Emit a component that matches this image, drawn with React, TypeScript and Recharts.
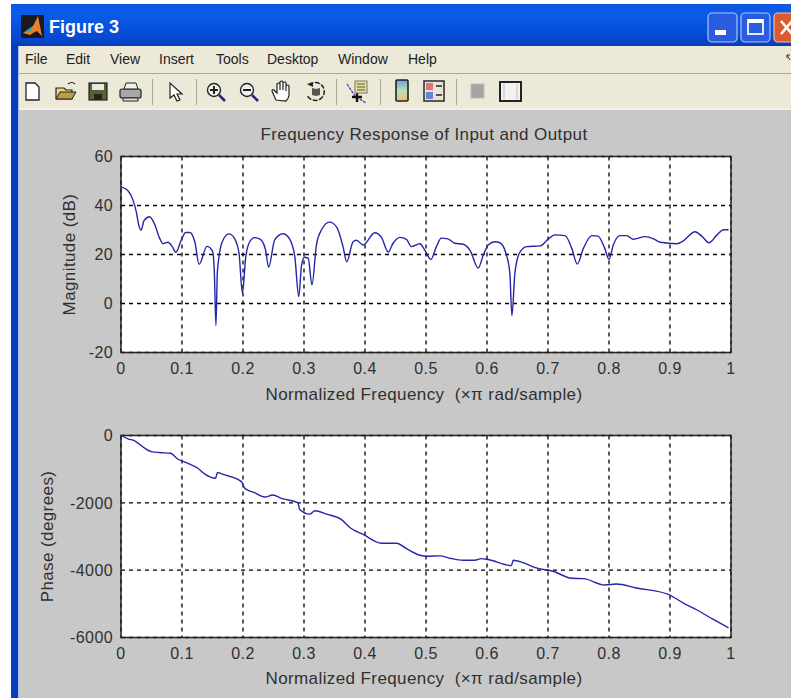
import React from "react";
import { LineChart, Line, XAxis, YAxis, CartesianGrid, ReferenceArea } from "recharts";

const FONT = '"Liberation Sans", Arial, sans-serif';
const GREY = "#c8c8c8";
const BEIGE = "#ece9d8";
const LINE_COLOR = "#2626a8";
const TEXT_COLOR = "#303030";

const freqTicks = [0, 0.1, 0.2, 0.3, 0.4, 0.5, 0.6, 0.7, 0.8, 0.9, 1];
const magTicks = [-20, 0, 20, 40, 60];
const phaseTicks = [-6000, -4000, -2000, 0];
const menuItems: [string, number][] = [
  ["File", 25], ["Edit", 66], ["View", 110], ["Insert", 159],
  ["Tools", 216], ["Desktop", 267], ["Window", 338], ["Help", 408],
];

const magFreq = [
  0, 0.0115, 0.0197, 0.025, 0.0295, 0.033, 0.0377, 0.047, 0.055, 0.0634, 0.069, 0.077, 0.084, 0.09,
  0.099, 0.106, 0.1126, 0.121, 0.128, 0.141, 0.15, 0.153, 0.1556, 0.158, 0.166, 0.177, 0.186, 0.1935,
  0.199, 0.2045, 0.211, 0.219, 0.2285, 0.237, 0.242, 0.252, 0.2657, 0.2767, 0.285, 0.2914, 0.296,
  0.301, 0.307, 0.313, 0.3204, 0.3286, 0.342, 0.354, 0.364, 0.37, 0.3805, 0.386, 0.397, 0.416, 0.427,
  0.438, 0.446, 0.457, 0.468, 0.476, 0.49, 0.498, 0.508, 0.517, 0.525, 0.536, 0.547, 0.561, 0.572,
  0.5856, 0.594, 0.602, 0.613, 0.621, 0.631, 0.6375, 0.6408, 0.6457, 0.653, 0.665, 0.687, 0.7, 0.711,
  0.728, 0.739, 0.748, 0.758, 0.772, 0.782, 0.793, 0.8, 0.807, 0.818, 0.829, 0.84, 0.859, 0.873,
  0.884, 0.911, 0.922, 0.941, 0.952, 0.964, 0.977, 0.988, 0.996,
];
const magValues = [
  47.6, 46, 42.2, 37.5, 31.6, 30, 33.8, 35.4, 32.4, 26.6, 24.4, 25, 23.2, 20.9,
  26, 29, 29, 25.2, 16, 23.3, 21.4, 13, -9, 13, 25.2, 28.4, 26.6, 20.5,
  4.2, 19, 25.2, 26.9, 26.2, 21.8, 14.8, 26, 28.5, 26.2, 19, 2.8, 15.7,
  18.9, 18.4, 7.6, 23.9, 30, 33.2, 31, 23.2, 17, 25.2, 25.8, 23.9, 28.9, 27,
  21, 24.6, 27, 26.2, 23.2, 24.4, 21.8, 18, 23.2, 26.7, 26.4, 24.6, 24.2, 21.8,
  14.5, 19.8, 23.9, 25.2, 24.8, 20.5, 12.3, -5, 12.3, 20.5, 23.2, 23.5, 26.2, 28,
  27.7, 22.5, 16.1, 22.5, 27.7, 27.5, 22.5, 18, 23.9, 27.7, 27.7, 26.2, 27.3, 26.4,
  25, 24.4, 25.6, 29.3, 27.5, 24.8, 28, 30.1, 30.1,
];

const phaseFreq = [
  0, 0.0115, 0.0224, 0.0388, 0.0498, 0.0634, 0.081, 0.0935, 0.107, 0.126, 0.137, 0.155, 0.158, 0.17,
  0.1974, 0.203, 0.219, 0.2356, 0.249, 0.263, 0.29, 0.293, 0.3095, 0.3177, 0.337, 0.361, 0.375, 0.397,
  0.427, 0.4516, 0.468, 0.49, 0.501, 0.5227, 0.539, 0.561, 0.58, 0.591, 0.602, 0.64, 0.643, 0.659,
  0.681, 0.7086, 0.7387, 0.758, 0.793, 0.812, 0.845, 0.897, 0.922, 0.9437, 0.971, 0.996,
];
const phaseValues = [
  0, -99, -159, -377, -477, -507, -527, -705, -805, -974, -1142, -1272, -1103, -1172,
  -1371, -1570, -1699, -1828, -1768, -1868, -1997, -2195, -2334, -2235, -2334, -2493, -2732, -2940,
  -3199, -3199, -3358, -3556, -3586, -3576, -3646, -3705, -3705, -3656, -3685, -3864, -3705, -3775,
  -3934, -4033, -4242, -4252, -4440, -4411, -4530, -4719, -4977, -5176, -5464, -5712,
];

const magData = magFreq.map((f, i) => ({ f, v: magValues[i] }));
const phaseData = phaseFreq.map((f, i) => ({ f, v: phaseValues[i] }));

const tickStyle = { fill: TEXT_COLOR, fontSize: 16, fontFamily: FONT, letterSpacing: 0.4 };
const labelStyle = {
  fill: TEXT_COLOR,
  fontSize: 17,
  fontFamily: FONT,
  letterSpacing: 0.4,
  textAnchor: "middle" as const,
};

interface PanelProps {
  data: { f: number; v: number }[];
  top: number;
  height: number;
  marginTop: number;
  axisHeight: number;
  labelOffset: number;
  yTicks: number[];
  yLabel: string;
  yLabelX: number;
}

function Panel({ data, top, height, marginTop, axisHeight, labelOffset, yTicks, yLabel, yLabelX }: PanelProps) {
  const yMin = yTicks[0];
  const yMax = yTicks[yTicks.length - 1];
  return (
    <div style={{ position: "absolute", left: 0, top }}>
      <LineChart
        width={791}
        height={height}
        data={data}
        margin={{ top: marginTop, right: 60, bottom: 0, left: 41 }}
      >
        <CartesianGrid
          stroke="#000"
          strokeWidth={1.3}
          strokeDasharray="4 4"
          fill="#fff"
          fillOpacity={1}
        />
        <XAxis
          dataKey="f"
          type="number"
          domain={[0, 1]}
          ticks={freqTicks}
          interval={0}
          height={axisHeight}
          axisLine={false}
          tickLine={false}
          tickSize={0}
          tickMargin={10}
          tick={tickStyle}
          label={{
            value: "Normalized Frequency \u00a0(×π rad/sample)",
            position: "insideBottom",
            offset: labelOffset,
            dx: -2,
            style: labelStyle,
          }}
        />
        <YAxis
          type="number"
          domain={[yMin, yMax]}
          ticks={yTicks}
          interval={0}
          width={80}
          axisLine={false}
          tickLine={false}
          tickSize={0}
          tickMargin={8}
          tick={tickStyle}
          label={{
            value: yLabel,
            angle: -90,
            position: "center",
            dx: yLabelX - 81,
            style: labelStyle,
          }}
        />
        <ReferenceArea
          x1={0}
          x2={1}
          y1={yMin}
          y2={yMax}
          fill="none"
          stroke="#222"
          strokeWidth={1.5}
        />
        <Line
          dataKey="v"
          type="monotoneX"
          stroke={LINE_COLOR}
          strokeWidth={1.4}
          dot={false}
          isAnimationActive={false}
        />
      </LineChart>
    </div>
  );
}

function Toolbar() {
  const sep = (x: number) => <rect key={x} x={x} y={79} width={1} height={26} fill="#aca899" />;
  const zoomIcon = (x: number, plus: boolean) => (
    <g fill="none" stroke="#222" strokeWidth={1.4}>
      <circle cx={x + 8} cy={90} r={6.5} fill="#f4f4f4" />
      <path d={`M${x + 4} 90h8`} strokeWidth={2} />
      {plus && <path d={`M${x + 8} 86v8`} strokeWidth={2} />}
      <path d={`M${x + 13} 95l6 6`} stroke="#1c2a80" strokeWidth={2.5} />
    </g>
  );
  return (
    <svg width={791} height={110} style={{ position: "absolute", left: 0, top: 0 }}>
      {/* dock arrow */}
      <path d="M787 55l3 5M787 55h3M787 55v3" stroke="#333" fill="none" />
      {/* document, folder, disk, printer */}
      <path d="M26 83h9l4 4v13H26z" fill="#fff" stroke="#222" strokeWidth={1.3} />
      <path d="M56 99V88h8l2 2h6v9z" fill="#e8d488" stroke="#222" strokeWidth={1.2} />
      <path d="M56 99l4-7h16l-4 7z" fill="#b8a040" stroke="#222" strokeWidth={1} />
      <path d="M68 84q4-3 7 0" fill="none" stroke="#222" strokeWidth={1.2} />
      <rect x={89} y={83} width={18} height={17} fill="#556033" stroke="#222" strokeWidth={1.2} />
      <rect x={92} y={84} width={12} height={6} fill="#e8e8e0" />
      <rect x={94} y={94} width={8} height={6} fill="#222" />
      <rect x={120} y={89} width={21} height={9} rx={2} fill="#a8a8a8" stroke="#222" strokeWidth={1.2} />
      <path d="M124 89l2-6h10l2 6z" fill="#eee" stroke="#222" />
      <path d="M123 98h15v3h-15z" fill="#ddd" stroke="#222" />
      {/* pointer */}
      <path d="M170 83v15l4-3 3 6 3-1-3-6h5z" fill="#fff" stroke="#222" strokeWidth={1.2} />
      {zoomIcon(206, true)}
      {zoomIcon(239, false)}
      {/* hand */}
      <path
        d="M276 100l-4-9q0-2 2-1l3 3v-9q2-2 3 0v6-8q2-2 3 0v8-7q2-2 3 0v8-5q2-2 3 0v9q0 3-3 6z"
        fill="#fff"
        stroke="#222"
        strokeWidth={1.2}
      />
      {/* rotate */}
      <path d="M309 85a9 9 0 1 1-2 10" fill="none" stroke="#222" strokeWidth={1.5} strokeDasharray="5 1.5" />
      <path d="M307 84l6-2v5z" fill="#222" />
      <path d="M312 88l4 1 4-1v7l-4 1-4-1z" fill="#555" />
      {/* data cursor */}
      <path d="M347 84l8 12 11 7" fill="none" stroke="#4040c0" strokeWidth={1.3} strokeDasharray="3 1" />
      <path d="M352 97h10M357 92v10" stroke="#111" strokeWidth={2.4} />
      <rect x={355} y={81} width={12} height={12} fill="#e8e090" stroke="#777" />
      <path d="M357 84h8M357 87h8M357 90h8" stroke="#555" />
      {/* colorbar */}
      <defs>
        <linearGradient id="cbar" x1="0" y1="0" x2="0" y2="1">
          <stop offset="0" stopColor="#6ea0e0" />
          <stop offset="0.5" stopColor="#b8e0b8" />
          <stop offset="1" stopColor="#f0c070" />
        </linearGradient>
      </defs>
      <rect x={396} y={80} width={12} height={21} rx={1} fill="url(#cbar)" stroke="#222" strokeWidth={1.6} />
      {/* legend */}
      <rect x={424} y={81} width={20} height={20} fill="#e8e4d8" stroke="#333" strokeWidth={1.6} />
      <rect x={426} y={83} width={7} height={7} fill="#e07080" />
      <rect x={426} y={92} width={7} height={7} fill="#7080d0" />
      <path d="M436 86h6M436 95h6" stroke="#222" strokeWidth={1.6} />
      {/* hide tools, plot box */}
      <rect x={471} y={84} width={13} height={14} fill="#a4a4a4" stroke="#bbb" />
      <rect x={500} y={82} width={21} height={19} fill="#f2f2f2" stroke="#222" strokeWidth={2} />
      <path d="M504 84v15M517 84v15" stroke="#bbb" />
      {[152, 196, 336, 380, 456].map(sep)}
    </svg>
  );
}

function WindowFrame() {
  return (
    <>
      <svg width={791} height={50} style={{ position: "absolute", left: 0, top: 0 }}>
        <defs>
          <linearGradient id="tb" x1="0" y1="0" x2="0" y2="1">
            <stop offset="0" stopColor="#0a58e0" />
            <stop offset="0.25" stopColor="#0c5ce8" />
            <stop offset="0.85" stopColor="#0448d0" />
            <stop offset="1" stopColor="#0a3cb0" />
          </linearGradient>
        </defs>
        <rect x={11} y={4} width={780} height={42} fill="url(#tb)" />
        <rect x={21} y={15} width={23} height={23} fill="#1a1a20" />
        <path d="M23 33l10-7 5-10 4 20-5-5-4 2-3 2z" fill="#e88030" />
        <path d="M23 33l10-7-2 5-4 1z" fill="#3aa0b0" />
        <rect x={708} y={13} width={29} height={29} rx={4} fill="#2a5ce0" stroke="#a8c4f4" strokeWidth={1.2} />
        <rect x={715} y={30} width={11} height={5} fill="#fff" />
        <rect x={741} y={13} width={29} height={29} rx={4} fill="#2a5ce0" stroke="#a8c4f4" strokeWidth={1.2} />
        <rect x={748} y={20} width={15} height={14} fill="none" stroke="#dfe8ff" strokeWidth={2} />
        <rect x={748} y={19} width={15} height={4} fill="#fff" />
        <rect x={774} y={13} width={24} height={29} rx={4} fill="#dc5a30" stroke="#f0c0a8" strokeWidth={1.2} />
        <path d="M781 21l11 13M792 21l-11 13" stroke="#fff" strokeWidth={2.6} />
      </svg>
      <div
        style={{
          position: "absolute",
          left: 49,
          top: 17,
          color: "#fff",
          fontFamily: FONT,
          fontWeight: 700,
          fontSize: 18,
        }}
      >
        Figure 3
      </div>
      <div style={{ position: "absolute", left: 11, top: 46, width: 780, height: 64, background: BEIGE }} />
      <div style={{ position: "absolute", left: 19, top: 73, width: 772, height: 1, background: "#aca899" }} />
      <div style={{ position: "absolute", left: 19, top: 108, width: 772, height: 2, background: "#f4f2e8" }} />
      {menuItems.map(([name, x]) => (
        <div
          key={name}
          style={{ position: "absolute", left: x, top: 51, fontFamily: FONT, fontSize: 14, color: "#222" }}
        >
          {name}
        </div>
      ))}
      <div style={{ position: "absolute", left: 11, top: 46, width: 7, height: 652, background: "#0a3cc0" }} />
      <div style={{ position: "absolute", left: 18, top: 46, width: 1, height: 652, background: "#a8c0e8" }} />
    </>
  );
}

export default function App() {
  return (
    <div
      style={{
        position: "absolute",
        left: 0,
        top: 0,
        width: 791,
        height: 698,
        overflow: "hidden",
        background: "#fff",
      }}
    >
      <div style={{ position: "absolute", left: 19, top: 110, width: 772, height: 588, background: GREY }} />
      <WindowFrame />
      <Toolbar />
      <div
        style={{
          position: "absolute",
          left: 119,
          width: 610,
          top: 125,
          textAlign: "center",
          fontFamily: FONT,
          fontSize: 17,
          letterSpacing: 0.4,
          color: TEXT_COLOR,
        }}
      >
        Frequency Response of Input and Output
      </div>
      <Panel
        data={magData}
        top={110}
        height={298}
        marginTop={46.5}
        axisHeight={55.5}
        labelOffset={8}
        yTicks={magTicks}
        yLabel="Magnitude (dB)"
        yLabelX={69}
      />
      <Panel
        data={phaseData}
        top={400}
        height={298}
        marginTop={35.5}
        axisHeight={60.5}
        labelOffset={14}
        yTicks={phaseTicks}
        yLabel="Phase (degrees)"
        yLabelX={47}
      />
    </div>
  );
}
